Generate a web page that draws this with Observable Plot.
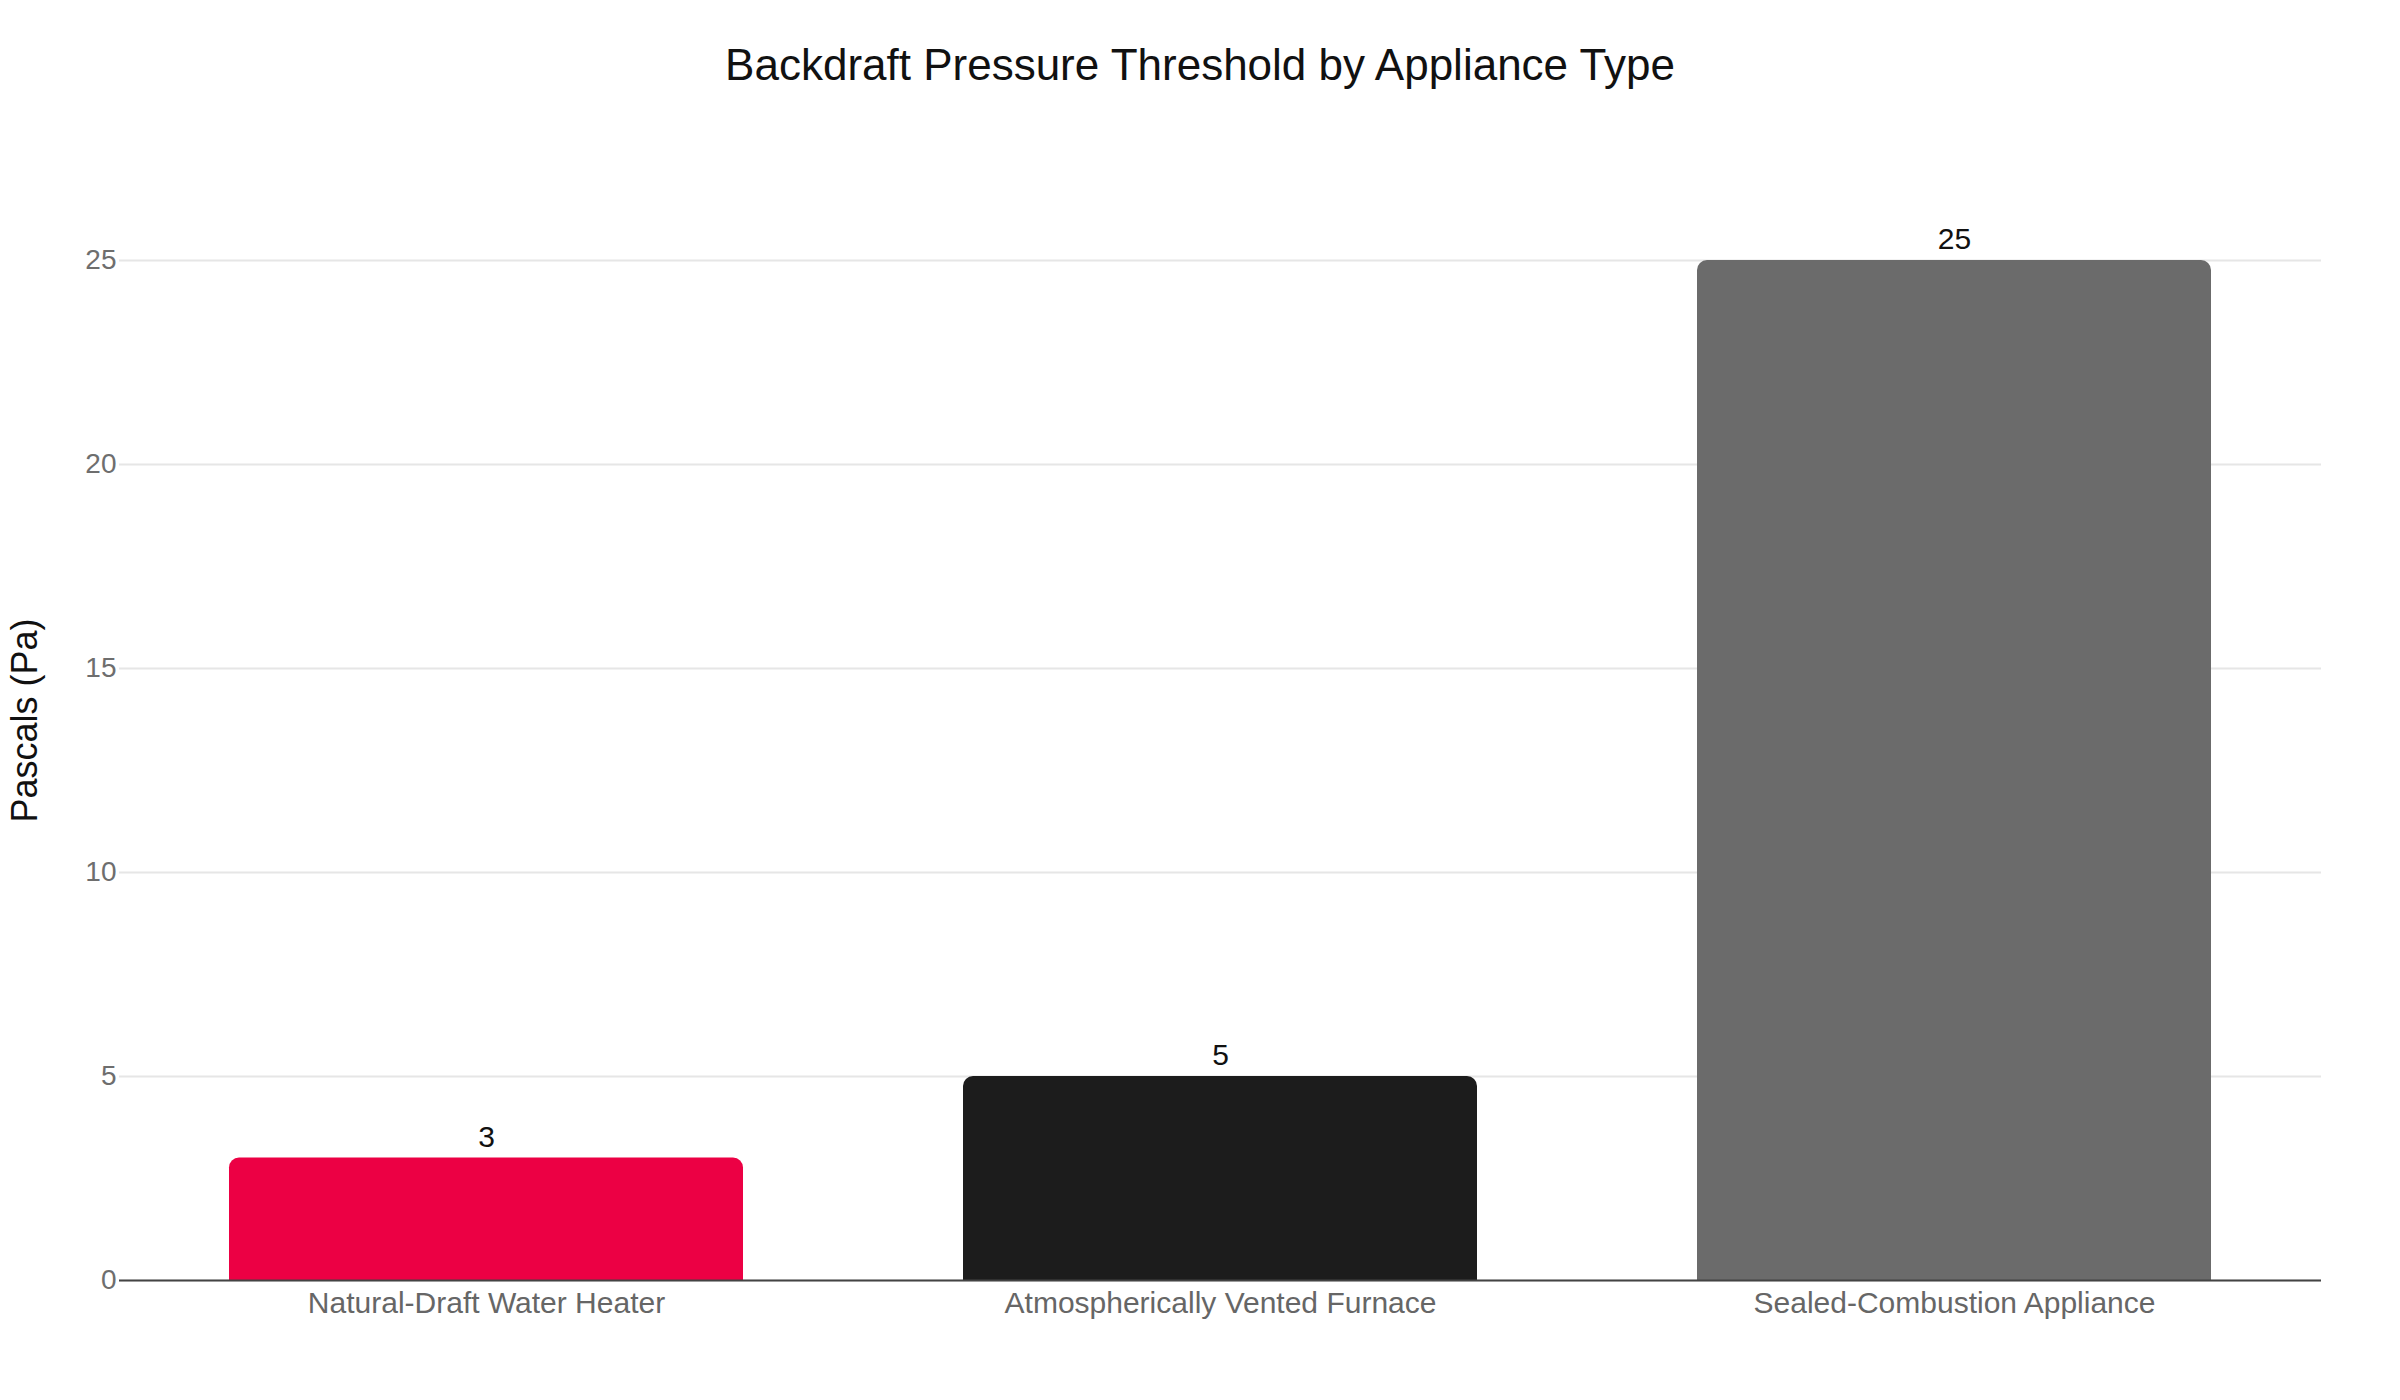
<!DOCTYPE html>
<html>
<head>
<meta charset="utf-8">
<script src="https://cdn.jsdelivr.net/npm/d3@7"></script>
<script src="https://cdn.jsdelivr.net/npm/@observablehq/plot@0.6"></script>
<style>
  html, body { margin: 0; padding: 0; background: #ffffff; }
  body { font-family: "Liberation Sans", Arial, Helvetica, sans-serif; width: 2400px; }
  #title { position: relative; width: 2400px; height: 130px; }
  #title span { position: absolute; left: 0; right: 0; top: 40px; text-align: center;
    font-size: 44px; line-height: normal; color: #111111; }
  #chart svg { display: block; }
</style>
</head>
<body>
<div id="title"><span>Backdraft Pressure Threshold by Appliance Type</span></div>
<div id="chart"></div>
<script>
const appliances = ["Natural-Draft Water Heater", "Atmospherically Vented Furnace", "Sealed-Combustion Appliance"];
const pascals = [3, 5, 25];
const barColors = ["#EC0044", "#1C1C1C", "#6B6B6B"];
const yTicks = [0, 5, 10, 15, 20, 25];
const yTitle = "Pascals (Pa)";

const data = appliances.map((a, i) => ({appliance: a, pa: pascals[i]}));

const font = "'Liberation Sans', Arial, Helvetica, sans-serif";

const chart = Plot.plot({
  width: 2400,
  height: 1270,
  marginTop: 30,
  marginBottom: 120,
  marginLeft: 119,
  marginRight: 79,
  style: {fontFamily: font, background: "#ffffff", overflow: "visible"},
  x: {domain: appliances, paddingInner: 0.3, paddingOuter: 0.15, label: null},
  y: {domain: [0, 27.45], label: null},
  color: {domain: appliances, range: barColors},
  marks: [
    Plot.gridY(yTicks, {stroke: "#e6e6e6", strokeOpacity: 1, strokeWidth: 2}),
    Plot.barY(data, {x: "appliance", y: "pa", fill: "appliance", ry1: 10}),
    Plot.ruleY([0], {stroke: "#444444", strokeWidth: 2}),
    Plot.text(data, {x: "appliance", y: "pa", text: d => String(d.pa), dy: -21,
      lineAnchor: "middle", fontSize: 30, fill: "#111111"}),
    Plot.axisX({tickSize: 0, tickPadding: 11, fontSize: 30, fill: "#666666", label: null}),
    Plot.axisY(yTicks, {tickSize: 0, tickPadding: 3, fontSize: 28, fill: "#6e6e6e", label: null}),
    Plot.text([yTitle], {text: d => d, frameAnchor: "left", textAnchor: "middle", rotate: -90, dx: -94,
      fontSize: 36, fill: "#111111", lineAnchor: "middle"})
  ]
});
document.getElementById("chart").appendChild(chart);
</script>
</body>
</html>
